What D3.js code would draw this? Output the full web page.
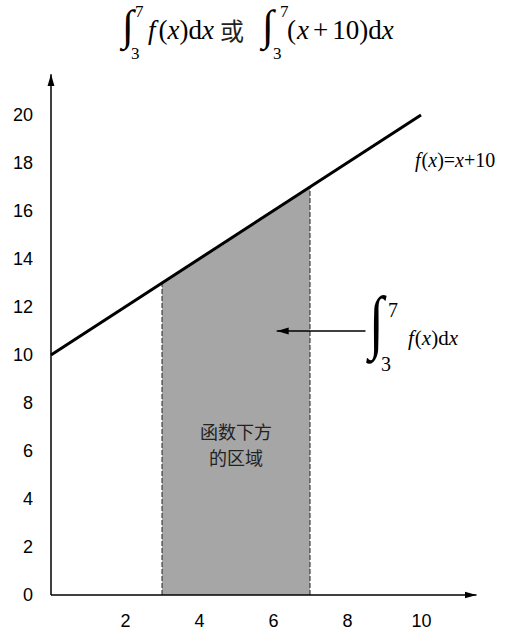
<!DOCTYPE html>
<html>
<head>
<meta charset="utf-8">
<script src="https://cdn.jsdelivr.net/npm/d3@7"></script>
<style>
  body { margin: 0; background: #fff; }
  svg { display: block; }
  .tick text { font-family: "Liberation Sans", Arial, sans-serif; font-size: 18px; fill: #000; }
  .math { font-family: "Liberation Serif", "Times New Roman", serif; fill: #000; }
  .cjk { font-family: "Noto Sans CJK SC", sans-serif; fill: #222; }
</style>
</head>
<body>
<svg id="chart" width="505" height="630"></svg>
<script>
// data
const xTicks = [2, 4, 6, 8, 10];
const yTicks = [0, 2, 4, 6, 8, 10, 12, 14, 16, 18, 20];
const lineX = [0, 10];
const lineY = [10, 20];
const areaX = [3, 7];
const areaY = [13, 17];
const regionLabel = ['函数下方', '的区域'];

const svg = d3.select('#chart');

const x = d3.scaleLinear().domain([0, 10]).range([51, 421]);
const y = d3.scaleLinear().domain([0, 20]).range([595, 115]);

const linePts = lineX.map((d, i) => [d, lineY[i]]);
const areaPts = areaX.map((d, i) => [d, areaY[i]]);

// writes a run of math pieces: [text, italic, dx]
function mathText(parent, px, py, size, parts, sy) {
    const t = parent.append('text')
        .attr('class', 'math')
        .attr('font-size', size);
    if (sy) {
        t.attr('transform', `translate(${px},${py}) scale(1,${sy})`);
    } else {
        t.attr('x', px).attr('y', py);
    }
    parts.forEach(([s, it, dx]) => {
        t.append('tspan')
            .attr('font-style', it ? 'italic' : 'normal')
            .attr('dx', dx || 0)
            .text(s);
    });
    return t;
}

// shaded area under f(x)
svg.append('path')
    .datum(areaPts)
    .attr('fill', '#a6a6a6')
    .attr('d', d3.area().x(d => x(d[0])).y0(y(0)).y1(d => y(d[1])));

// dashed bounds
svg.selectAll('.bound')
    .data(areaPts)
    .join('line')
    .attr('class', 'bound')
    .attr('x1', d => x(d[0]))
    .attr('x2', d => x(d[0]))
    .attr('y1', y(0))
    .attr('y2', d => y(d[1]))
    .attr('stroke', '#222')
    .attr('stroke-width', 1)
    .attr('stroke-dasharray', '5,2');

// arrow marker
svg.append('defs').append('marker')
    .attr('id', 'arr')
    .attr('viewBox', '0 0 12 8')
    .attr('refX', 12).attr('refY', 4)
    .attr('markerWidth', 12).attr('markerHeight', 8)
    .attr('markerUnits', 'userSpaceOnUse')
    .attr('orient', 'auto')
    .append('path')
    .attr('d', 'M0,0.5 L12,4 L0,7.5 Z')
    .attr('fill', '#000');

// axes lines
svg.append('line')
    .attr('x1', x(0)).attr('y1', y(0))
    .attr('x2', x(11.5)).attr('y2', y(0))
    .attr('stroke', '#000').attr('stroke-width', 1.5)
    .attr('marker-end', 'url(#arr)');
svg.append('line')
    .attr('x1', x(0)).attr('y1', y(0))
    .attr('x2', x(0)).attr('y2', y(21.7))
    .attr('stroke', '#000').attr('stroke-width', 1.5)
    .attr('marker-end', 'url(#arr)');

svg.append('g')
    .attr('transform', `translate(0,${y(0)})`)
    .call(d3.axisBottom(x).tickValues(xTicks).tickSize(0).tickPadding(19))
    .call(g => g.select('.domain').remove());

svg.append('g')
    .attr('transform', `translate(${x(0)},0)`)
    .call(d3.axisLeft(y).tickValues(yTicks).tickSize(0).tickPadding(18))
    .call(g => g.select('.domain').remove());

// f(x) line
svg.append('path')
    .datum(linePts)
    .attr('fill', 'none')
    .attr('stroke', '#000')
    .attr('stroke-width', 3)
    .attr('d', d3.line().x(d => x(d[0])).y(d => y(d[1])));

// region label
svg.append('text')
    .attr('class', 'cjk')
    .attr('text-anchor', 'middle')
    .attr('font-size', 18)
    .selectAll('tspan')
    .data(regionLabel)
    .join('tspan')
    .attr('x', x(5))
    .attr('y', (d, i) => 439 + i * 26)
    .text(d => d);

// arrow pointing into region
svg.append('line')
    .attr('x1', x(8.5)).attr('y1', y(11))
    .attr('x2', x(6.1)).attr('y2', y(11))
    .attr('stroke', '#000').attr('stroke-width', 1.3)
    .attr('marker-end', 'url(#arr)');

// integral annotation
const ann = svg.append('g');
mathText(ann, 369, 345, 54, [['∫']], 1.3);
mathText(ann, 388, 317, 20, [['7']]);
mathText(ann, 381, 371, 20, [['3']]);
mathText(ann, 408, 345, 21, [['f', true], ['(', false, 1], ['x', true], [')d'], ['x', true]]);

// function label
mathText(svg, 415, 167, 20, [['f', true], ['(', false, 1], ['x', true], [')='], ['x', true], ['+10']]);

// title
const tt = svg.append('g');
mathText(tt, 122, 40, 43, [['∫']]);
mathText(tt, 135, 17, 17, [['7']]);
mathText(tt, 131, 59, 17, [['3']]);
mathText(tt, 148, 39, 27, [['f', true], ['(', false, 3], ['x', true], [')d'], ['x', true]]);
tt.append('text').attr('class', 'cjk')
    .attr('x', 220).attr('y', 40).attr('font-size', 24).attr('fill', '#000')
    .text('或');
mathText(tt, 262, 40, 43, [['∫']]);
mathText(tt, 280, 17, 17, [['7']]);
mathText(tt, 273, 59, 17, [['3']]);
mathText(tt, 287, 39, 27, [['('], ['x', true, 1], ['+', false, 4], ['10', false, 4], [')d'], ['x', true]]);
</script>
</body>
</html>
